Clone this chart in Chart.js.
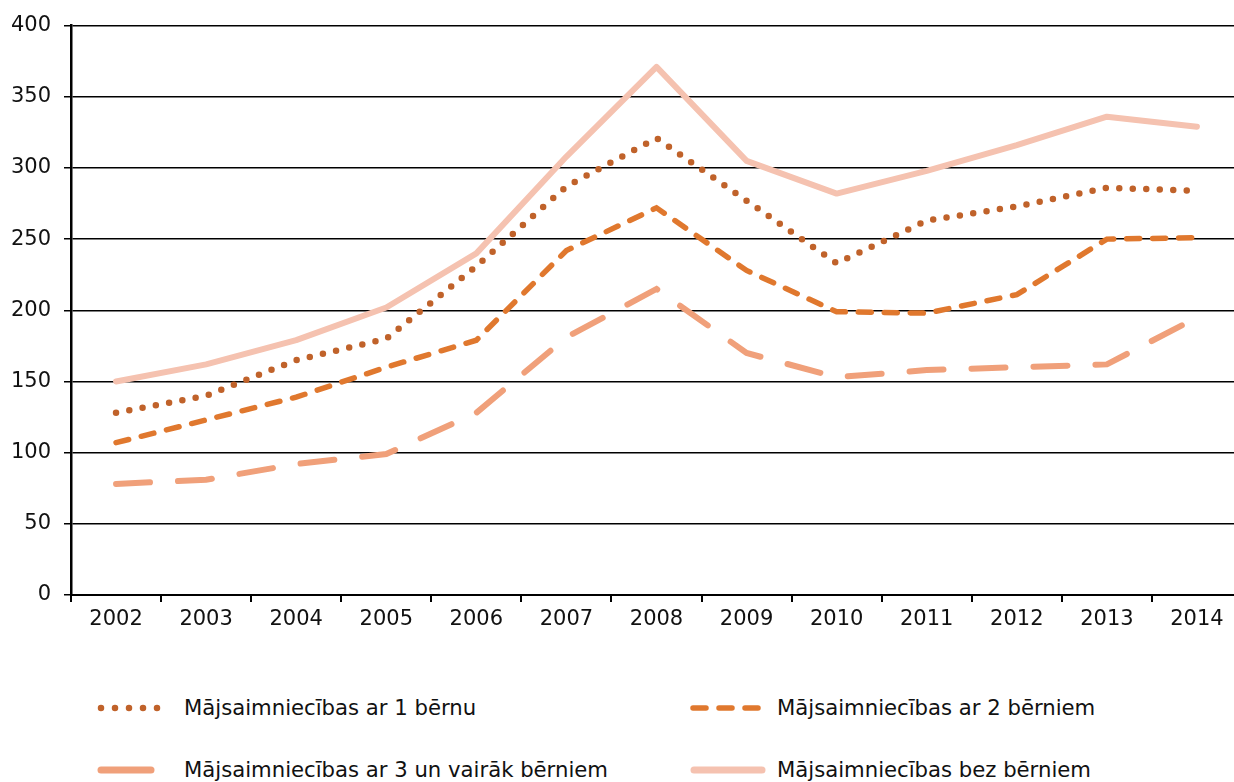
<!DOCTYPE html>
<html>
<head>
<meta charset="utf-8">
<script src="https://cdn.jsdelivr.net/npm/chart.js@4"></script>
<style>
  html, body { margin: 0; padding: 0; background: #fff; overflow: hidden; }
  body { width: 1234px; height: 782px; position: relative; font-family: "DejaVu Sans", Verdana, sans-serif; }
  #wrap { position: absolute; left: 0; top: 0; width: 1250px; height: 650px; }
  .legend-item { position: absolute; font-size: 21.2px; color: #111; white-space: nowrap; line-height: 26px; }
  .legend-item svg { position: absolute; top: 0; }
  .legend-item span { position: absolute; top: 0; }
</style>
</head>
<body>
<div id="wrap"><canvas id="lineChart" width="1250" height="650"></canvas></div>
<div id="legend"></div>
<script>
// Data
const years = ["2002", "2003", "2004", "2005", "2006", "2007", "2008", "2009", "2010", "2011", "2012", "2013", "2014"];
const oneChild = [128, 140, 165, 180, 231, 287, 321, 277, 233, 263, 273, 286, 284];
const twoChildren = [107, 123, 139, 160, 179, 242, 272, 228, 199, 198, 211, 250, 251];
const threePlus = [78, 81, 92, 99, 128, 181, 215, 170, 153, 158, 160, 162, 195];
const noChildren = [150, 162, 179, 202, 240, 308, 371, 305, 282, 298, 316, 336, 329];
const yTicks = [0, 50, 100, 150, 200, 250, 300, 350, 400];

const seriesNames = [
  "Mājsaimniecības ar 1 bērnu",
  "Mājsaimniecības ar 2 bērniem",
  "Mājsaimniecības ar 3 un vairāk bērniem",
  "Mājsaimniecības bez bērniem",
];

const colors = ["#c0622a", "#e0782e", "#f0a07a", "#f5c2b0"];

const ctx = document.getElementById("lineChart").getContext("2d");
new Chart(ctx, {
  type: "line",
  data: {
    labels: years,
    datasets: [
      {
        label: seriesNames[3],
        data: noChildren,
        borderColor: colors[3],
        borderWidth: 6,
        borderCapStyle: "round",
        borderJoinStyle: "round",
        pointRadius: 0,
        tension: 0,
        fill: false,
      },
      {
        label: seriesNames[0],
        data: oneChild,
        borderColor: colors[0],
        borderWidth: 6.5,
        borderDash: [0, 13.5],
        borderCapStyle: "round",
        pointRadius: 0,
        tension: 0,
        fill: false,
      },
      {
        label: seriesNames[1],
        data: twoChildren,
        borderColor: colors[1],
        borderWidth: 5.5,
        borderDash: [13, 13],
        borderCapStyle: "round",
        pointRadius: 0,
        tension: 0,
        fill: false,
      },
      {
        label: seriesNames[2],
        data: threePlus,
        borderColor: colors[2],
        borderWidth: 6,
        borderDash: [34, 28],
        borderCapStyle: "round",
        pointRadius: 0,
        tension: 0,
        fill: false,
      },
    ],
  },
  options: {
    responsive: false,
    animation: false,
    layout: { padding: { top: 23, right: 8, left: 0, bottom: 0 } },
    plugins: {
      legend: { display: false },
      tooltip: { enabled: false },
    },
    scales: {
      x: {
        offset: true,
        grid: {
          offset: true,
          drawOnChartArea: false,
          color: "#000",
          tickLength: 7,
          lineWidth: 2,
        },
        border: { color: "#000", width: 2 },
        ticks: { color: "#111", font: { family: "DejaVu Sans", size: 21 }, padding: 5, maxRotation: 0 },
        afterFit: (scale) => { scale.height = 55; },
      },
      y: {
        min: 0,
        max: 400,
        afterBuildTicks: (scale) => { scale.ticks = yTicks.map((v) => ({ value: v })); },
        grid: { color: "#000", lineWidth: 1.5, tickLength: 7 },
        border: { color: "#000", width: 2.5 },
        ticks: { color: "#111", font: { family: "DejaVu Sans", size: 21 }, padding: 13 },
        afterFit: (scale) => { scale.width = 71; },
      },
    },
  },
});

// Legend (two columns)
const legendItems = [
  { name: seriesNames[0], color: colors[0], dash: "0 14", width: 6.5, x: 101, y: 695, len: 58, textX: 184 },
  { name: seriesNames[1], color: colors[1], dash: "13 13", width: 5.5, x: 693, y: 695, len: 70, textX: 777 },
  { name: seriesNames[2], color: colors[2], dash: "", width: 7, x: 101, y: 757, len: 50, textX: 184 },
  { name: seriesNames[3], color: colors[3], dash: "", width: 7, x: 694, y: 757, len: 68, textX: 777 },
];
const legend = document.getElementById("legend");
legendItems.forEach((it) => {
  const div = document.createElement("div");
  div.className = "legend-item";
  div.style.left = "0px";
  div.style.top = it.y + "px";
  div.innerHTML =
    '<svg width="' + (it.x + it.len + 10) + '" height="26"><line x1="' + it.x + '" y1="13" x2="' + (it.x + it.len) +
    '" y2="13" stroke="' + it.color + '" stroke-width="' + it.width + '" stroke-linecap="round"' +
    (it.dash ? ' stroke-dasharray="' + it.dash + '"' : "") + '/></svg>' +
    '<span style="left:' + it.textX + 'px">' + it.name + "</span>";
  legend.appendChild(div);
});
</script>
</body>
</html>
